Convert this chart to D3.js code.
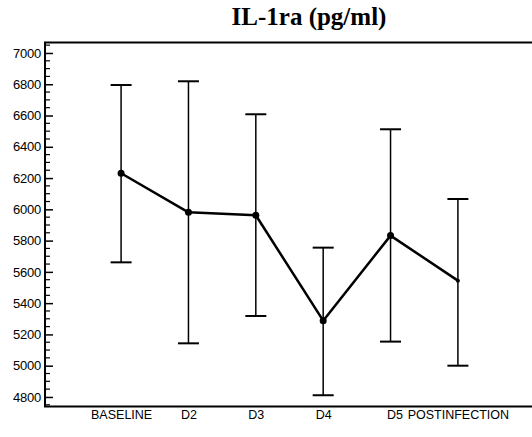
<!DOCTYPE html>
<html>
<head>
<meta charset="utf-8">
<script src="https://cdn.jsdelivr.net/npm/d3@7.9.0/dist/d3.min.js"></script>
<style>
  body { margin: 0; background: #fff; }
  svg { display: block; }
</style>
</head>
<body>
<div id="chart"></div>
<script>
// values
const categories = ["BASELINE", "D2", "D3", "D4", "D5", "POSTINFECTION"];
const means      = [6231, 5981, 5962, 5288, 5832, 5544];
const upper      = [6795, 6819, 6608, 5755, 6512, 6066];
const lower      = [5661, 5143, 5318, 4811, 5154, 5000];
const yTicks     = [4800, 5000, 5200, 5400, 5600, 5800, 6000, 6200, 6400, 6600, 6800, 7000];

const data = categories.map((c, i) => ({ cat: c, mean: means[i], hi: upper[i], lo: lower[i] }));

const W = 532, H = 437;
const plot = { left: 45, right: 532, top: 42.5, bottom: 406.5 };

const svg = d3.select("#chart").append("svg")
  .attr("width", W)
  .attr("height", H);

// scales
const x = d3.scalePoint()
  .domain(categories)
  .range([plot.left + 2, plot.right])
  .padding(1.1);

const y = d3.scaleLinear()
  .domain([4739, 7067])
  .range([plot.bottom, plot.top]);

// title
svg.append("text")
  .attr("x", 309)
  .attr("y", 25)
  .attr("text-anchor", "middle")
  .style("font-family", "'Liberation Serif', 'Times New Roman', serif")
  .style("font-weight", "bold")
  .style("font-size", "25px")
  .text("IL-1ra (pg/ml)");

// minor ticks on y (every 50)
const minor = d3.range(4750, 7051, 50).filter(v => v % 200 !== 0);
svg.append("g")
  .attr("transform", `translate(${plot.left},0)`)
  .selectAll("line")
  .data(minor)
  .join("line")
    .attr("x1", 0)
    .attr("x2", 5)
    .attr("y1", d => y(d))
    .attr("y2", d => y(d))
    .attr("stroke", "#000")
    .attr("stroke-width", 1.2);

// y axis
const yAxis = svg.append("g")
  .attr("transform", `translate(${plot.left},0)`)
  .call(d3.axisLeft(y).tickValues(yTicks).tickFormat(d3.format("d")).tickSize(-8).tickPadding(4));
yAxis.select(".domain").remove();
yAxis.selectAll(".tick line").attr("stroke-width", 1.5);
yAxis.selectAll(".tick text")
  .style("font-family", "'Liberation Sans', Arial, sans-serif")
  .style("font-size", "13px")
  .style("letter-spacing", "-0.2px")
  .attr("fill", "#000");

// frame: top, left, bottom
svg.append("path")
  .attr("d", `M${plot.right},${plot.top}H${plot.left}V${plot.bottom}H${plot.right}`)
  .attr("fill", "none")
  .attr("stroke", "#000")
  .attr("stroke-width", 2);

// x axis labels
const xAxis = svg.append("g")
  .attr("transform", `translate(0,${plot.bottom})`)
  .call(d3.axisBottom(x).tickSize(0).tickPadding(4));
xAxis.select(".domain").remove();
xAxis.selectAll(".tick text")
  .style("font-family", "'Liberation Sans', Arial, sans-serif")
  .style("font-size", "12.5px")
  .attr("fill", "#000")
  .attr("dx", d => d === "D5" ? 4 : 0);

// error bars
const capW = 10.5;
const bars = svg.append("g").attr("stroke", "#000");
bars.selectAll(".stem")
  .data(data)
  .join("line")
    .attr("class", "stem")
    .attr("x1", d => x(d.cat)).attr("x2", d => x(d.cat))
    .attr("y1", d => y(d.hi)).attr("y2", d => y(d.lo))
    .attr("stroke-width", 1.5);
bars.selectAll(".cap-hi")
  .data(data)
  .join("line")
    .attr("class", "cap-hi")
    .attr("x1", d => x(d.cat) - capW).attr("x2", d => x(d.cat) + capW)
    .attr("y1", d => y(d.hi)).attr("y2", d => y(d.hi))
    .attr("stroke-width", 2);
bars.selectAll(".cap-lo")
  .data(data)
  .join("line")
    .attr("class", "cap-lo")
    .attr("x1", d => x(d.cat) - capW).attr("x2", d => x(d.cat) + capW)
    .attr("y1", d => y(d.lo)).attr("y2", d => y(d.lo))
    .attr("stroke-width", 2);

// mean line + points
const line = d3.line()
  .x(d => x(d.cat))
  .y(d => y(d.mean));

svg.append("path")
  .datum(data)
  .attr("fill", "none")
  .attr("stroke", "#000")
  .attr("stroke-width", 2.5)
  .attr("stroke-linejoin", "round")
  .attr("d", line);

svg.selectAll(".pt")
  .data(data)
  .join("circle")
    .attr("class", "pt")
    .attr("cx", d => x(d.cat))
    .attr("cy", d => y(d.mean))
    .attr("r", d => d.cat === "POSTINFECTION" ? 2 : 3.5)
    .attr("fill", "#000");
</script>
</body>
</html>
